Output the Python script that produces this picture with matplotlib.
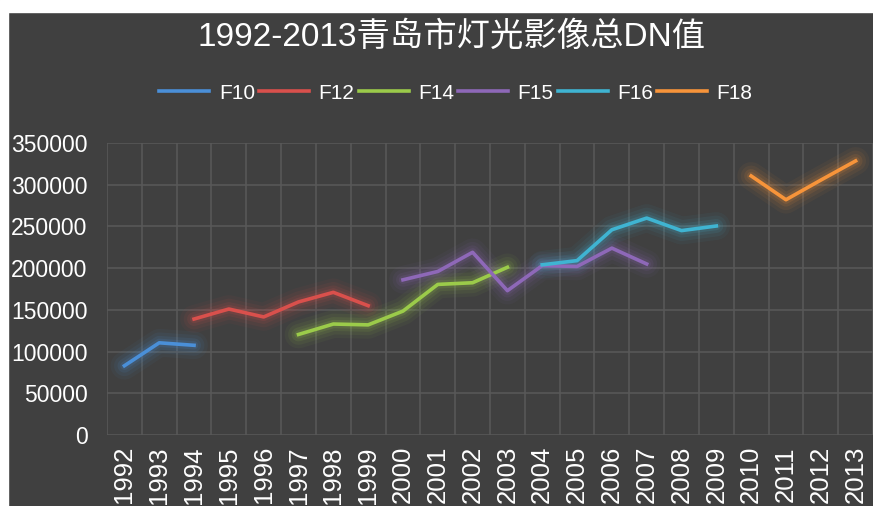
import numpy as np
import matplotlib
matplotlib.use("Agg")
import matplotlib.pyplot as plt
from matplotlib.patches import Rectangle

plt.rcParams['font.family'] = ['Liberation Sans', 'Noto Sans CJK SC', 'DejaVu Sans']

years = [str(y) for y in range(1992, 2014)]

# series values, each starting at its first year
f10_years = [1992, 1993, 1994]
f10 = [83000, 110500, 107500]
f12_years = [1994, 1995, 1996, 1997, 1998, 1999]
f12 = [139000, 151000, 141500, 159500, 171000, 155000]
f14_years = [1997, 1998, 1999, 2000, 2001, 2002, 2003]
f14 = [120500, 133000, 132000, 148500, 180500, 182500, 201000]
f15_years = [2000, 2001, 2002, 2003, 2004, 2005, 2006, 2007]
f15 = [186000, 196000, 219000, 173000, 203000, 202000, 224000, 205000]
f16_years = [2004, 2005, 2006, 2007, 2008, 2009]
f16 = [204000, 209000, 246000, 260000, 245000, 250500]
f18_years = [2010, 2011, 2012, 2013]
f18 = [310500, 282000, 305500, 328500]

series = [
    ('F10', f10_years, f10, '#4A8FD8'),
    ('F12', f12_years, f12, '#D9504C'),
    ('F14', f14_years, f14, '#9BCB4A'),
    ('F15', f15_years, f15, '#8E68B8'),
    ('F16', f16_years, f16, '#3FB4D2'),
    ('F18', f18_years, f18, '#F7943A'),
]

bg = '#404040'
W, H = 873, 506
fig = plt.figure(figsize=(W / 100 + 1e-4, H / 100 + 1e-4), dpi=100, facecolor=bg)
# white margins at the left and top of the picture
fig.patches.append(Rectangle((0, 0), 8 / W, 1, transform=fig.transFigure,
                             color='white', zorder=-10))
fig.patches.append(Rectangle((0, 1 - 12 / H), 1, 12 / H, transform=fig.transFigure,
                             color='white', zorder=-10))

ax = fig.add_axes([107 / W, 1 - 435 / H, (873 - 107) / W, (435 - 143) / H])
ax.set_facecolor(bg)

handles = []
for name, yrs, vals, col in series:
    x = [y - 1992 for y in yrs]
    # soft glow behind each line
    for lw, a in [(20, 0.05), (15, 0.07), (10, 0.10), (6, 0.14)]:
        ax.plot(x, vals, color=col, lw=lw, alpha=a, solid_capstyle='round',
                solid_joinstyle='round', zorder=2)
    ln, = ax.plot(x, vals, color=col, lw=2.6, label=name, zorder=3,
                  solid_joinstyle='round')
    handles.append(ln)

ax.set_xlim(-0.5, 21.5 - 8 / 35.2)
ax.set_ylim(0, 350000)
ax.set_yticks(range(0, 350001, 50000))
ax.set_yticklabels([str(v) for v in range(0, 350001, 50000)])
ax.set_xticks(range(len(years)))
ax.set_xticklabels(years, rotation=90, va='top')

ax.set_xticks(np.arange(-0.5, 22, 1), minor=True)
ax.grid(which='minor', axis='x', color='#585858', lw=1.2)
ax.grid(which='major', axis='y', color='#585858', lw=1.2)
ax.tick_params(axis='both', which='both', length=0, colors='white')
ax.tick_params(axis='y', pad=14, labelsize=16.5)
ax.tick_params(axis='x', pad=8, labelsize=18.5)
for s in ax.spines.values():
    s.set_visible(False)
ax.set_axisbelow(True)

fig.text(452 / W, 1 - 37 / H, '1992-2013青岛市灯光影像总DN值', color='white',
         fontsize=24, ha='center', va='center',
         family=['Liberation Sans', 'Noto Sans CJK SC'])

fig.legend(handles=handles, loc='center', bbox_to_anchor=(456 / W, 1 - 93 / H),
           ncol=6, frameon=False, fontsize=15, labelcolor='white',
           handlelength=2.4, handletextpad=0.45, columnspacing=0.2)

fig.savefig('out.png', dpi=100, facecolor=fig.get_facecolor())
